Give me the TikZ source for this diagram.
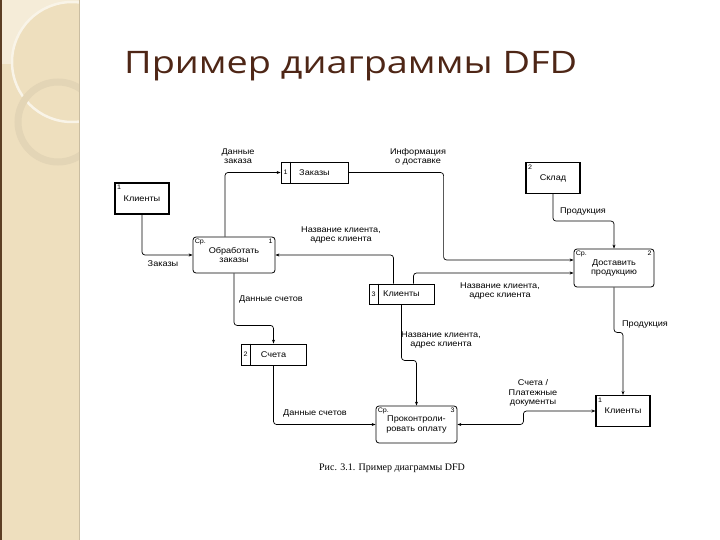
\documentclass[tikz,border=0pt]{standalone}
\usepackage{fontspec}
\setmainfont{Liberation Sans}[FakeStretch=1.1]
\newfontfamily\titlefont{Open Sans}[FakeStretch=1.22]
\newfontfamily\capfont{Liberation Serif}
\usetikzlibrary{arrows.meta}
\definecolor{sidebar}{RGB}{238,223,190}
\definecolor{sidelight}{RGB}{245,236,216}
\definecolor{ringcol}{RGB}{227,213,182}
\definecolor{titlebrown}{RGB}{78,38,22}
\definecolor{edgebrown}{RGB}{92,62,36}
\newcommand\dfdfont{\fontsize{8.3}{9.6}\selectfont}
\newcommand\numfont{\fontsize{6.5}{7.5}\selectfont}

\begin{document}
\begin{tikzpicture}[x=1pt,y=-1pt,
    entity/.style={draw, line width=1.1pt, minimum width=54pt, minimum height=31pt, font=\dfdfont,
      label={[anchor=north west, inner sep=2.5pt, font=\numfont]north west:#1}},
    proc/.style={draw, line width=0.8pt, rounded corners=3pt, minimum width=81pt, minimum height=37pt,
      align=center, font=\dfdfont, inner sep=1pt,
      label={[anchor=north west, inner sep=2pt, font=\numfont]north west:Ср.},
      label={[anchor=north east, inner sep=2.5pt, font=\numfont]north east:#1}},
    store/.style={draw, line width=0.8pt, minimum width=65pt, minimum height=20pt, font=\dfdfont},
    flow/.style={draw, line width=0.7pt, rounded corners=3pt, -{Stealth[length=4pt,width=3pt]}},
    flowboth/.style={flow, {Stealth[length=4pt,width=3pt]}-{Stealth[length=4pt,width=3pt]}},
    lbl/.style={font=\dfdfont, align=center, inner sep=0pt}
  ]
  \useasboundingbox (0,0) rectangle (720,540);

  % side bar
  \fill[white] (0,0) rectangle (720,540);
  \fill[sidebar] (0,0) rectangle (79,540);
  \begin{scope}
    \clip (0,0) rectangle (79,540);
    \fill[sidelight] (0,0) rectangle (79,64);
    \fill[sidebar] (72,62) circle[radius=60];
    \draw[white!65!sidebar, line width=2.5pt] (72,62) circle[radius=60];
    \draw[ringcol, line width=7pt] (58,122) circle[radius=40];
  \end{scope}
  \draw[edgebrown, line width=1.5pt] (0.75,0) -- (0.75,540);
  \draw[sidebar!85!black, line width=0.4pt] (79,0) -- (79,540);

  % title and caption
  \node[anchor=base west, inner sep=0pt, font=\titlefont\fontsize{31}{36}\selectfont, text=titlebrown]
    (title) at (124,74) {Пример диаграммы DFD};
  \node[anchor=base, inner sep=0pt, font=\capfont\fontsize{10}{11}\selectfont]
    (caption) at (392,470) {Рис. 3.1. Пример диаграммы DFD};

  % external entities
  \node[entity=1] (clientsA) at (142,198.5) {Клиенты};
  \node[entity=2] (stock) at (553,178) {Склад};
  \node[entity=1] (clientsB) at (623,411) {Клиенты};

  % processes
  \node[proc=1, minimum width=82pt, minimum height=36pt] (handle) at (234,255) {Обработать\\заказы};
  \node[proc=2, minimum width=80pt, minimum height=38pt] (deliver) at (614,268) {Доставить\\продукцию};
  \node[proc=3] (control) at (416.5,424.5) {Проконтроли-\\ровать оплату};

  % data stores
  \node[store, minimum width=67pt, minimum height=21pt] (orders) at (314.5,172.5) {Заказы};
  \node[store] (clientsS) at (401.5,294) {Клиенты};
  \node[store, minimum height=21pt] (bills) at (273.5,354.5) {Счета};
  \foreach \s/\n in {orders/1, clientsS/3, bills/2} {
    \draw[line width=0.8pt] ([xshift=10pt]\s.north west) -- ([xshift=10pt]\s.south west);
    \node[font=\numfont, inner sep=0pt] at ([xshift=5pt]\s.west) {\n};
  }

  % flows
  \draw[flow] (clientsA.south) |- (handle.west);
  \node[lbl] (l1) at (163,264) {Заказы};

  \draw[flow] ([xshift=-9pt]handle.north) |- (orders.west);
  \node[lbl] (l2) at (238,156) {Данные\\заказа};

  \draw[flow] (orders.east) -| ([xshift=-130pt,yshift=8pt]deliver.west) -- ([yshift=8pt]deliver.west);
  \node[lbl] (l3) at (418,157) {Информация\\о доставке};

  \draw[flow] (stock.south) -- ++(0,27) -| (deliver.north);
  \node[lbl] (l4) at (583,212) {Продукция};

  \draw[flow] ([xshift=12pt]clientsS.north) |- ([yshift=-5pt]deliver.west);
  \node[lbl] (l5) at (500,291) {Название клиента,\\адрес клиента};

  \draw[flow] ([xshift=-8pt]clientsS.north) |- (handle.east);
  \node[lbl] (l6) at (341,235) {Название клиента,\\адрес клиента};

  \draw[flow] (handle.south) -- ++(0,52) -| (bills.north);
  \node[lbl] (l7) at (271,299) {Данные счетов};

  \draw[flow] (clientsS.south) -- ++(0,56) -| (control.north);
  \node[lbl] (l8) at (441,340) {Название клиента,\\адрес клиента};

  \draw[flow] (bills.south) |- (control.west);
  \node[lbl] (l9) at (315,413) {Данные счетов};

  \draw[flowboth] (control.east) -- ++(66,0) |- (clientsB.west);
  \node[lbl] (l10) at (533,393) {Счета /\\Платежные\\документы};

  \draw[flow] (deliver.south) -- ++(0,45) -| (clientsB.north);
  \node[lbl] (l11) at (645,325) {Продукция};
\end{tikzpicture}
\end{document}
